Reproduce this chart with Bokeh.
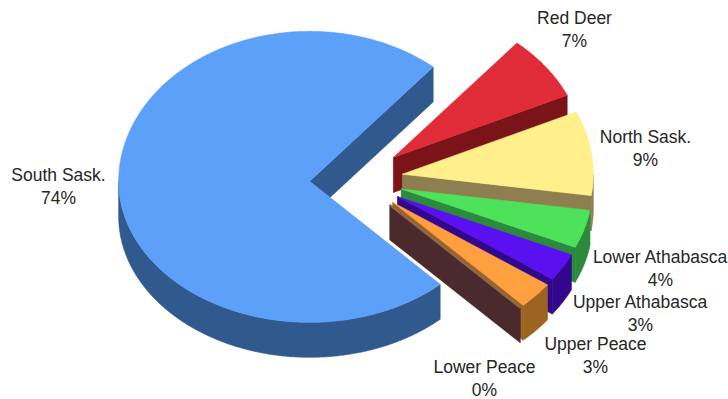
import numpy as np
from bokeh.core.properties import value
from bokeh.embed import file_html
from bokeh.plotting import figure
from bokeh.resources import INLINE

# Share of each region, clockwise from the Red Deer slice
regions = ["Red Deer", "North Sask.", "Lower Athabasca", "Upper Athabasca",
           "Upper Peace", "Lower Peace", "South Sask."]
shares = [7, 9, 4, 3, 3, 0, 74]

top_colors = ["#df2c38", "#fff08c", "#4ee25a", "#5a10f0", "#ffa040", "#8a6a52", "#5ca0fa"]
side_colors = ["#7a1418", "#8f7f50", "#2b8a3c", "#32078c", "#9c6420", "#4a2a2c", "#305a8e"]

label_x = [574, 645, 660, 640, 595, 484, 58]
label_y = [17, 136, 256, 301, 343, 366, 174]

# Projection of the tilted pie in page pixels; the near half of the rim is
# foreshortened a little, as in a perspective view
CX, CY = 355.7, 179.0
RX, RY_BACK, RY_FRONT = 191.0, 150.0, 141.0
DEPTH = 35.0
EXPLODE = 0.244
START_DEG = 49.7
SKEW_DEG = 3.0

p = figure(width=728, height=399, x_range=(0, 728), y_range=(399, 0),
           output_backend="svg", toolbar_location=None, min_border=0,
           outline_line_color=None, background_fill_color="white",
           border_fill_color="white")
p.axis.visible = False
p.grid.visible = False


def arc(a0, a1, ox, oy, dz=0.0):
    deg = np.linspace(a0, a1, max(2, int(abs(a1 - a0)) * 2 + 2))
    # Perspective pulls the front-right rim toward the viewer's centre line
    deg = np.where((deg > -90) & (deg < 0), deg + SKEW_DEG * np.sin(np.radians(2 * deg)), deg)
    t = np.radians(deg)
    ry = np.where(np.sin(t) < 0, RY_FRONT, RY_BACK)
    return ox + RX * np.cos(t), oy - ry * np.sin(t) + dz


def face(xs, ys, color):
    p.patch(xs, ys, fill_color=color, line_color=color, line_width=0.6)


angle = START_DEG
for name, share, top, side in zip(regions, shares, top_colors, side_colors):
    a0, a1 = angle, angle - share * 3.6
    angle = a1
    mid = np.radians((a0 + a1) / 2)
    ox = CX + EXPLODE * RX * np.cos(mid)
    oy = CY - EXPLODE * RY_BACK * np.sin(mid)

    # Radial cuts, drawn only when they turn toward the viewer
    for edge, visible in ((a0, np.cos(np.radians(a0)) < 0), (a1, np.cos(np.radians(a1)) > 0)):
        if visible:
            ex, ey = arc(edge, edge, ox, oy)
            face([ox, ex[0], ex[0], ox], [oy, ey[0], ey[0] + DEPTH, oy + DEPTH], side)

    # Outer wall: only the lower half of the rim faces the viewer
    lo, hi = max(a1, -180), min(a0, 0)
    if hi > lo:
        ux, uy = arc(hi, lo, ox, oy)
        lx, ly = arc(lo, hi, ox, oy, DEPTH)
        face(np.r_[ux, lx], np.r_[uy, ly], side)

    # Top face
    tx, ty = arc(a0, a1, ox, oy)
    if share == 0:
        p.line([ox, tx[0]], [oy, ty[0]], line_color=top, line_width=2)
    else:
        face(np.r_[ox, tx], np.r_[oy, ty], top)

for name, share, x, y in zip(regions, shares, label_x, label_y):
    p.text([x, x], [y, y + 23], text=[name, f"{share}%"], text_align="center",
           text_baseline="middle", text_color="#262626", text_font_size="17.5px",
           text_font=value("Liberation Sans"))

open("out.html", "w").write(file_html(p, INLINE))
